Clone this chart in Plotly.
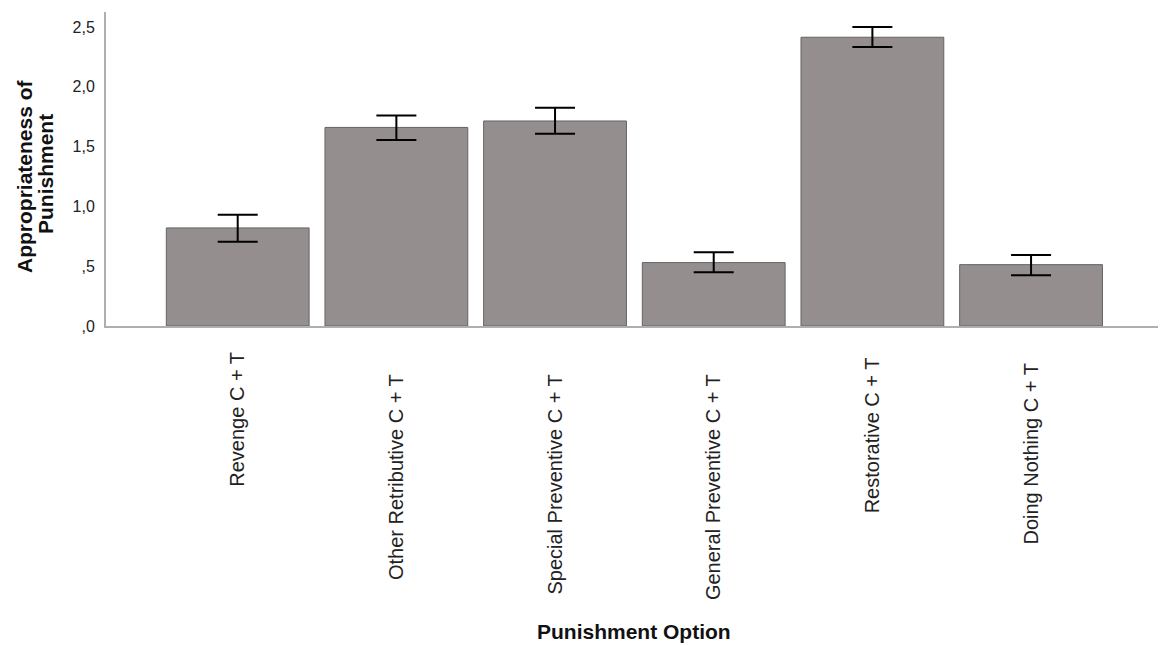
import plotly.graph_objects as go

categories = ["Revenge C + T", "Other Retributive C + T", "Special Preventive C + T",
              "General Preventive C + T", "Restorative C + T", "Doing Nothing C + T"]
means = [0.82, 1.66, 1.714, 0.53, 2.414, 0.513]
err_upper = [0.93, 1.76, 1.825, 0.616, 2.50, 0.594]
err_lower = [0.705, 1.555, 1.608, 0.449, 2.333, 0.424]
ytick_vals = [0, 0.5, 1.0, 1.5, 2.0, 2.5]
ytick_text = [",0", ",5", "1,0", "1,5", "2,0", "2,5"]
label_pad = [0, 4, 4, 4, 1, 2]  # trailing spaces to mimic the ragged label tops

plus = [u - m for u, m in zip(err_upper, means)]
minus = [m - l for m, l in zip(means, err_lower)]
xtick_text = [c + "\u00a0" * p for c, p in zip(categories, label_pad)]

fig = go.Figure()
fig.add_trace(go.Bar(
    x=categories, y=means,
    marker=dict(color="rgb(148,143,142)", line=dict(color="rgb(100,100,100)", width=1)),
    error_y=dict(type="data", array=plus, arrayminus=minus, symmetric=False,
                 color="black", thickness=2, width=20),
    showlegend=False,
))

font = "Liberation Sans, Arial, sans-serif"
fig.update_layout(
    width=1161, height=645,
    margin=dict(l=106, r=3, t=12, b=319),
    plot_bgcolor="white", paper_bgcolor="white",
    bargap=0.1,
    font=dict(family=font, color="#222"),
    xaxis=dict(range=[-0.83, 5.8], showline=True, linecolor="rgb(175,175,175)", linewidth=2,
               showgrid=False, zeroline=False, ticks="", tickangle=-90,
               tickmode="array", tickvals=categories, ticktext=xtick_text,
               tickfont=dict(size=20, family=font, color="#222"),
               ticklabelstandoff=16),
    yaxis=dict(range=[0, 2.625], showline=True, linecolor="rgb(175,175,175)", linewidth=2,
               showgrid=False, zeroline=False, ticks="",
               tickvals=ytick_vals, ticktext=ytick_text,
               tickfont=dict(size=16, family=font, color="#222"),
               ticklabelstandoff=6),
    annotations=[
        dict(text="<b>Appropriateness of</b>", xref="paper", yref="paper",
             x=(24 - 106) / 1052, y=(326 - 176) / 314, xanchor="center", yanchor="middle",
             textangle=-90, showarrow=False, font=dict(size=21, family=font, color="#111")),
        dict(text="<b>Punishment</b>", xref="paper", yref="paper",
             x=(45 - 106) / 1052, y=(326 - 174) / 314, xanchor="center", yanchor="middle",
             textangle=-90, showarrow=False, font=dict(size=21, family=font, color="#111")),
        dict(text="<b>Punishment Option</b>", xref="paper", yref="paper",
             x=(634 - 106) / 1052, y=-(631 - 326) / 314, xanchor="center", yanchor="middle",
             showarrow=False, font=dict(size=21, family=font, color="#111")),
    ],
)

fig.write_html("out.html", config={"displayModeBar": False},
               post_script="document.body.style.margin='0';document.body.style.overflow='hidden';")
